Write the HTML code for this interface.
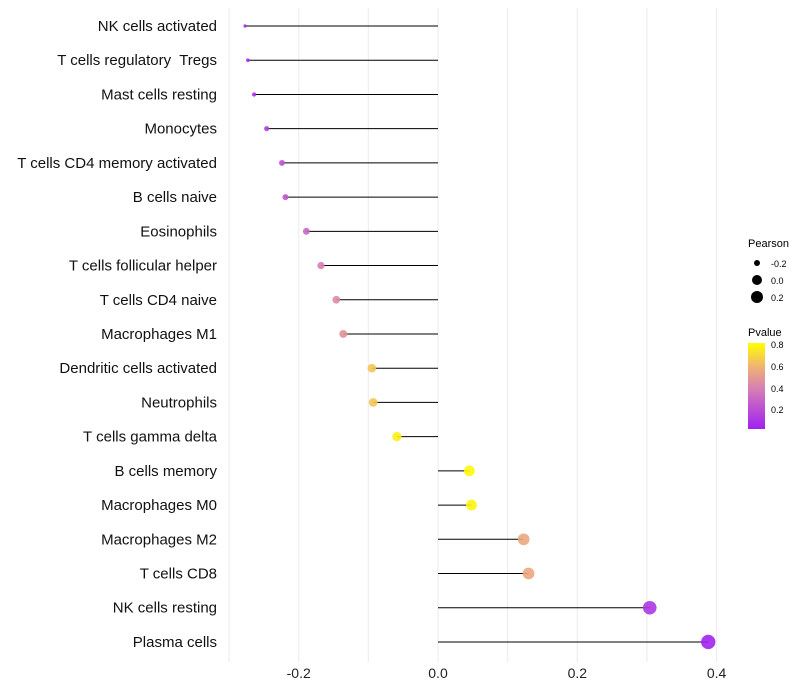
<!DOCTYPE html>
<html><head><meta charset="utf-8"><style>
body{margin:0;background:#fff;font-family:"Liberation Sans",sans-serif}
svg{display:block}
text{white-space:pre}
</style></head><body>
<svg id="c" width="800" height="700" xmlns="http://www.w3.org/2000/svg">
<defs><linearGradient id="pg" x1="0" y1="1" x2="0" y2="0">
<stop offset="0" stop-color="#a020f0"/><stop offset="0.47" stop-color="#d77fb5"/><stop offset="0.73" stop-color="#f0b470"/><stop offset="1" stop-color="#ffff00"/></linearGradient></defs>
<g id="grid"></g><g id="marks"></g><g id="labels"></g><g id="legend"></g>
</svg>
<script>
const cells=["NK cells activated","T cells regulatory  Tregs","Mast cells resting","Monocytes","T cells CD4 memory activated","B cells naive","Eosinophils","T cells follicular helper","T cells CD4 naive","Macrophages M1","Dendritic cells activated","Neutrophils","T cells gamma delta","B cells memory","Macrophages M0","Macrophages M2","T cells CD8","NK cells resting","Plasma cells"];
const pearson=[-0.277,-0.273,-0.264,-0.246,-0.224,-0.219,-0.189,-0.168,-0.146,-0.136,-0.095,-0.093,-0.059,0.045,0.048,0.123,0.130,0.304,0.388];
const pvalue=[0.05,0.08,0.1,0.15,0.22,0.25,0.3,0.4,0.45,0.48,0.65,0.65,0.78,0.8,0.79,0.55,0.55,0.12,0.04];
const xTicks=[-0.2,0.0,0.2,0.4];
const xTickLabels=["-0.2","0.0","0.2","0.4"];
const NS="http://www.w3.org/2000/svg";
const X=v=>438+v*696.5;
const Y=i=>26+i*34.22;
const R=v=>1.2+6*Math.sqrt(Math.max(0,v+0.28)/0.67);
const stops=[[0.03,[160,32,240]],[0.4,[215,127,181]],[0.6,[240,180,112]],[0.82,[255,255,0]]];
function col(p){p=Math.max(stops[0][0],Math.min(0.82,p));for(let k=0;k<stops.length-1;k++){const a=stops[k],b=stops[k+1];if(p<=b[0]){const t=(p-a[0])/(b[0]-a[0]);return "rgb("+a[1].map((c,j)=>Math.round(c+(b[1][j]-c)*t)).join(",")+")";}}return "rgb(255,255,0)";}
function mk(tag,at,parent){const e=document.createElementNS(NS,tag);for(const k in at)e.setAttribute(k,at[k]);document.getElementById(parent).appendChild(e);return e;}
for(let v=-0.3;v<=0.41;v+=0.1){const g=mk("line",{x1:X(v),x2:X(v),y1:8,y2:662,stroke:"#ebebeb","stroke-width":1},"grid");

}
xTicks.forEach((t,i)=>{const e=mk("text",{x:X(t),y:678,"text-anchor":"middle","font-size":14,fill:"#222"},"labels");e.textContent=xTickLabels[i];

});
cells.forEach((c,i)=>{
const l=mk("line",{x1:X(0),x2:X(pearson[i]),y1:Y(i),y2:Y(i),stroke:"#000","stroke-width":1},"marks");


const p=mk("circle",{cx:X(pearson[i]),cy:Y(i),r:R(pearson[i]),fill:col(pvalue[i]),"fill-opacity":0.9},"marks");


const t=mk("text",{x:217,y:Y(i)+5,"text-anchor":"end","font-size":15,fill:"#111"},"labels");t.textContent=c;


});
</script>
<script>
(function(){const L=document.getElementById("legend");
L.innerHTML='<text x="748" y="247" font-size="11" fill="#000">Pearson</text>'+
'<circle cx="757" cy="263" r="3" fill="#000"/><text x="771" y="267" font-size="9">-0.2</text>'+
'<circle cx="757" cy="280" r="5" fill="#000"/><text x="771" y="284" font-size="9">0.0</text>'+
'<circle cx="757" cy="297" r="6" fill="#000"/><text x="771" y="301" font-size="9">0.2</text>'+
'<text x="748" y="336" font-size="11" fill="#000">Pvalue</text>'+
'<rect x="748" y="343" width="17" height="86" fill="url(#pg)"/>'+
'<text x="771" y="348" font-size="9">0.8</text>'+
'<text x="771" y="370" font-size="9">0.6</text>'+
'<text x="771" y="392" font-size="9">0.4</text>'+
'<text x="771" y="413" font-size="9">0.2</text>';})();
</script>
</body></html>
